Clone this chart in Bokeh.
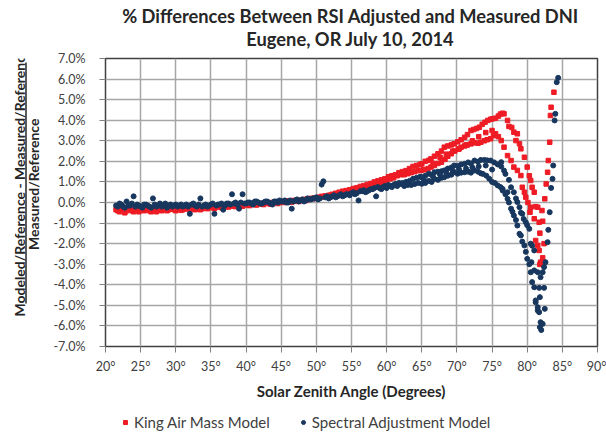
import math
from bokeh.plotting import figure
from bokeh.models import FixedTicker, Legend, LegendItem, Range1d
from bokeh.core.properties import value
from bokeh.layouts import column, row
from bokeh.embed import file_html
from bokeh.resources import INLINE

# ---------------- texts ----------------
title_line1 = "% Differences Between RSI Adjusted and Measured DNI"
title_line2 = "Eugene, OR July 10, 2014"
x_axis_title = "Solar Zenith Angle (Degrees)"
y_title_top = "Modeled/Reference - Measured/Reference"
y_title_bottom = "Measured/Reference"
series_names = ["King Air Mass Model", "Spectral Adjustment Model"]

x_ticks = [20, 25, 30, 35, 40, 45, 50, 55, 60, 65, 70, 75, 80, 85, 90]
x_tick_labels = ["20°", "25°", "30°", "35°", "40°", "45°", "50°", "55°", "60°",
                 "65°", "70°", "75°", "80°", "85°", "90°"]
y_ticks = [-7, -6, -5, -4, -3, -2, -1, 0, 1, 2, 3, 4, 5, 6, 7]
y_tick_labels = ["-7.0%", "-6.0%", "-5.0%", "-4.0%", "-3.0%", "-2.0%", "-1.0%", "0.0%",
                 "1.0%", "2.0%", "3.0%", "4.0%", "5.0%", "6.0%", "7.0%"]

# ---------------- data: (solar zenith deg, % difference) ----------------
# King Air Mass Model
king_band_a = [(21.5,-0.35),(22,-0.45),(22.5,-0.30),(23,-0.40),(23.5,-0.25),(24,-0.45),(24.5,-0.35),
               (25,-0.30),(25.5,-0.40),(26,-0.35),(26.5,-0.45),(27,-0.30),(27.5,-0.35),(28,-0.40),
               (28.5,-0.30),(29,-0.35),(29.5,-0.30),(30,-0.40),(30.5,-0.30),(31,-0.35),(31.5,-0.25),
               (32,-0.35),(32.5,-0.30),(33,-0.28),(33.5,-0.35),(34,-0.25),(34.5,-0.30),(35,-0.22),
               (35.5,-0.30),(36,-0.20),(36.5,-0.25),(37,-0.18),(37.5,-0.22),(38,-0.15),(38.5,-0.20),
               (39,-0.12),(39.5,-0.18),(40,-0.10),(40.5,-0.15),(41,-0.08),(41.5,-0.12),(42,-0.05),
               (42.5,-0.10),(43,-0.02),(43.5,-0.08),(44,0.00),(44.5,-0.05),(45,0.02),(45.5,0.00),
               (46,0.05),(46.5,0.02),(47,0.08),(47.5,0.05),(48,0.12),(48.5,0.10),(49,0.15),(49.5,0.18),
               (50,0.20),(50.5,0.25),(51,0.28),(51.5,0.30),(52,0.35),(52.5,0.38),(53,0.42),(53.5,0.40),
               (54,0.48),(54.5,0.52),(55,0.55),(55.5,0.60),(56,0.65),(56.5,0.70),(57,0.72),(57.5,0.80),
               (58,0.85),(58.5,0.90),(59,0.95),(59.5,1.00),(60,1.05),(60.5,1.15),(61,1.20),(61.5,1.30),
               (62,1.35),(62.5,1.35),(63,1.40),(63.5,1.45),(64,1.50),(64.5,1.55)]
king_band_b = [(21.75,-0.40),(22.25,-0.30),(22.75,-0.50),(23.25,-0.35),(23.75,-0.40),(24.25,-0.30),
               (24.75,-0.45),(25.25,-0.35),(25.75,-0.30),(26.25,-0.40),(26.75,-0.35),(27.25,-0.45),
               (27.75,-0.30),(28.25,-0.35),(28.75,-0.40),(29.25,-0.30),(29.75,-0.35),(30.25,-0.30),
               (30.75,-0.38),(31.25,-0.32),(31.75,-0.28),(32.25,-0.30),(32.75,-0.35),(33.25,-0.25),
               (33.75,-0.30),(34.25,-0.28),(34.75,-0.22),(35.25,-0.25),(35.75,-0.20),(36.25,-0.22),
               (36.75,-0.18),(37.25,-0.20),(37.75,-0.15),(38.25,-0.18),(38.75,-0.12),(39.25,-0.15),
               (39.75,-0.10),(40.25,-0.12),(40.75,-0.08),(41.25,-0.10),(41.75,-0.05),(42.25,-0.08),
               (42.75,-0.02),(43.25,-0.05),(43.75,0.00),(44.25,0.02),(44.75,0.00),(45.25,0.05),
               (45.75,0.08),(46.25,0.05),(46.75,0.10),(47.25,0.12),(47.75,0.10),(48.25,0.15),
               (48.75,0.18),(49.25,0.20),(49.75,0.22),(50.25,0.25),(50.75,0.30),(51.25,0.32),
               (51.75,0.35),(52.25,0.40),(52.75,0.45),(53.25,0.50),(53.75,0.55),(54.25,0.58),
               (54.75,0.62),(55.25,0.68),(55.75,0.72),(56.25,0.78),(56.75,0.82),(57.25,0.88),
               (57.75,0.92),(58.25,1.00),(58.75,1.05),(59.25,1.10),(59.75,1.15),(60.25,1.25),
               (60.75,1.30),(61.25,1.35),(61.75,1.45),(62.25,1.50),(62.75,1.55),(63.25,1.65),
               (63.75,1.75),(64.25,1.80),(64.75,1.85)]
king_upper = [(65.0,1.88),(65.5,2.00),(66.0,2.05),(66.3,2.12),(66.8,2.25),(67.3,2.37),(67.8,2.50),
              (68.2,2.69),(68.7,2.75),(69.2,2.80),(69.6,2.85),(70.1,2.95),(70.6,3.05),(71.1,3.17),
              (71.5,3.30),(72.0,3.50),(72.4,3.55),(72.8,3.60),(73.2,3.66),(73.6,3.80),(74.0,3.90),
              (74.4,3.99),(74.8,4.05),(75.1,4.07),(75.5,4.10),(75.9,4.20),(76.2,4.30),(76.5,4.34),
              (76.7,4.31),(77.2,3.99),(77.4,3.70),(78.1,3.42),(78.4,3.01),(78.9,2.85),(79.1,2.61),
              (79.6,2.20),(80.0,1.72),(80.3,1.30),(80.5,1.07),(80.7,0.74),(81.0,0.50),(81.2,-0.20),
              (81.5,-0.23),(82.1,-0.39),(82.2,-0.91),(82.4,-2.00)]
king_lower = [(64.9,1.56),(65.4,1.60),(65.9,1.65),(66.3,1.72),(66.8,1.80),(67.3,1.90),(67.8,1.96),
              (68.3,2.10),(68.7,2.25),(69.2,2.37),(69.7,2.50),(70.2,2.60),(70.6,2.69),(71.1,2.75),
              (71.5,2.80),(72.0,2.85),(72.5,2.90),(73.0,2.88),(73.4,2.93),(73.9,3.00),(74.3,3.05),
              (74.8,3.10),(75.2,3.25),(75.5,3.34),(75.9,3.20),(76.3,3.01),(76.7,2.69),(77.2,2.28),
              (77.7,2.04),(78.1,1.72),(78.6,1.56),(79.1,1.31),(79.3,0.74),(79.6,0.50),(79.8,0.26),
              (80.1,0.00),(80.5,-0.23),(80.4,-0.47),(81.0,-0.79),(81.7,-0.96),(81.8,-1.49),
              (81.2,-1.85),(81.5,-2.09),(81.7,-2.33),(82.2,-2.69),(81.9,-2.90),(81.8,-3.01)]
king_middle = [(65.3,1.60),(66.6,1.90),(67.6,2.20),(68.5,2.35),(69.4,2.50),(70.3,2.60),(71.3,2.80),
               (72.2,3.00),(73.1,3.20),(74.1,3.40),(75.0,3.50),(77.8,3.65),(78.6,3.34)]
king_rise = [(82.5,0.18),(82.7,0.90),(82.9,1.47),(83.0,2.04),(83.2,2.93),(83.3,4.23),(83.4,4.63),
             (83.8,5.36)]

# Spectral Adjustment Model
spec_band_a = [(21.5,-0.15),(22,-0.05),(22.5,-0.20),(23,0.05),(23.5,-0.15),(24,0.30),(24.5,-0.10),
               (25,-0.20),(25.5,-0.10),(26,-0.15),(26.5,-0.25),(27,-0.10),(27.5,-0.15),(28,-0.20),
               (28.5,-0.05),(29,-0.15),(29.5,-0.20),(30,-0.10),(30.5,-0.15),(31,-0.20),(31.5,-0.10),
               (32,-0.55),(32.5,-0.05),(33,-0.20),(33.5,0.20),(34,-0.15),(34.5,-0.20),(35,-0.10),
               (35.5,-0.55),(36,-0.10),(36.5,-0.05),(37,-0.15),(37.5,-0.05),(38,0.40),(38.5,0.00),
               (39,-0.30),(39.5,0.40),(40,-0.05),(40.5,0.00),(41,-0.10),(41.5,0.05),(42,-0.05),
               (42.5,0.00),(43,0.05),(43.5,-0.05),(44,0.05),(44.5,0.00),(45,0.05),(45.5,0.10),
               (46,0.00),(46.5,-0.30),(47,0.10),(47.5,0.05),(48,0.15),(48.5,0.10),(49,0.15),
               (49.5,0.20),(50,0.25),(50.5,0.20),(51,1.03),(51.5,0.30),(52,0.25),(52.5,0.35),
               (53,0.30),(53.5,0.40),(54,0.35),(54.5,0.40),(55,0.45),(55.5,0.40),(56,0.10),
               (56.5,0.55),(57,0.50),(57.5,0.60),(58,0.65),(58.5,0.30),(59,0.70),(59.5,0.75),
               (60,0.70),(60.5,0.80),(61,0.85),(61.5,0.80),(62,0.90),(62.5,0.80),(63,0.85),
               (63.5,0.85),(64,0.90),(64.5,0.95)]
spec_band_b = [(21.75,-0.20),(22.25,-0.10),(22.75,-0.25),(23.25,-0.15),(23.75,-0.05),(24.25,-0.20),
               (24.75,-0.15),(25.25,-0.25),(25.75,-0.10),(26.25,-0.20),(26.75,0.20),(27.25,-0.20),
               (27.75,-0.05),(28.25,-0.15),(28.75,-0.25),(29.25,-0.10),(29.75,-0.15),(30.25,-0.20),
               (30.75,-0.10),(31.25,-0.15),(31.75,-0.20),(32.25,-0.10),(32.75,-0.15),(33.25,-0.10),
               (33.75,-0.20),(34.25,-0.10),(34.75,-0.15),(35.25,-0.05),(35.75,-0.15),(36.25,-0.10),
               (36.75,-0.35),(37.25,-0.05),(37.75,-0.10),(38.25,-0.05),(38.75,-0.10),(39.25,0.00),
               (39.75,-0.05),(40.25,0.00),(40.75,-0.05),(41.25,0.05),(41.75,0.00),(42.25,-0.05),
               (42.75,0.05),(43.25,0.00),(43.75,-0.10),(44.25,0.05),(44.75,0.10),(45.25,0.05),
               (45.75,0.00),(46.25,0.10),(46.75,0.05),(47.25,0.15),(47.75,0.10),(48.25,0.05),
               (48.75,0.20),(49.25,0.15),(49.75,0.20),(50.25,0.15),(50.75,0.87),(51.25,0.25),
               (51.75,0.20),(52.25,0.30),(52.75,0.25),(53.25,0.35),(53.75,0.30),(54.25,0.40),
               (54.75,0.35),(55.25,0.50),(55.75,0.45),(56.25,0.55),(56.75,0.60),(57.25,0.55),
               (57.75,0.65),(58.25,0.70),(58.75,0.75),(59.25,0.65),(59.75,0.80),(60.25,0.85),
               (60.75,0.75),(61.25,0.90),(61.75,0.95),(62.25,0.95),(62.75,1.00),(63.25,1.05),
               (63.75,1.15),(64.25,1.20),(64.75,1.25)]
spec_upper = [(65.0,1.23),(65.5,1.30),(66.0,1.40),(66.4,1.35),(66.8,1.47),(67.3,1.50),(67.8,1.52),
              (68.2,1.56),(68.7,1.65),(69.2,1.70),(69.6,1.80),(70.1,1.78),(70.6,1.85),(71.1,1.88),
              (71.6,1.95),(72.0,1.90),(72.5,2.04),(73.0,1.98),(73.4,2.07),(73.9,2.07),(74.3,2.05),
              (74.8,2.04),(75.3,1.95),(75.8,1.85),(76.3,1.75),(76.7,1.55),(76.9,1.39),(77.4,1.10),
              (77.7,0.74),(78.1,0.50),(78.4,0.20),(78.6,0.02),(78.9,-0.23),(79.1,-0.50),(79.3,-0.55),
              (79.5,-0.80),(79.8,-0.96),(80.0,-1.10),(80.3,-1.28),(80.5,-2.00),(80.7,-2.10),
              (81.0,-2.33),(80.6,-2.90),(81.0,-3.30),(81.5,-3.39),(81.9,-3.63),(81.7,-4.15),
              (82.4,-4.15),(81.8,-4.60),(81.2,-4.85),(81.5,-5.09),(82.5,-5.17)]
spec_lower = [(65.0,0.91),(65.5,0.95),(66.0,1.05),(66.4,1.00),(66.8,1.15),(67.3,1.10),(67.8,1.20),
              (68.2,1.23),(68.7,1.30),(69.2,1.35),(69.6,1.47),(70.1,1.40),(70.6,1.45),(71.1,1.47),
              (71.6,1.50),(72.0,1.45),(72.5,1.56),(73.0,1.50),(73.4,1.42),(73.7,1.39),(74.2,1.30),
              (74.6,1.15),(75.0,1.00),(75.4,0.95),(75.8,0.83),(76.2,0.75),(76.5,0.58),(76.9,0.40),
              (77.2,0.18),(77.4,0.00),(77.7,-0.30),(77.9,-0.45),(78.1,-0.63),(78.4,-0.85),
              (78.6,-1.12),(78.9,-1.52),(79.1,-1.60),(79.3,-1.90),(79.6,-2.09),(79.8,-2.40),
              (80.0,-2.74),(80.3,-3.00),(80.5,-3.39),(80.7,-3.87),(81.0,-4.12),(81.2,-4.76),
              (81.5,-5.25),(81.7,-5.33),(81.9,-5.82),(81.8,-6.06),(82.0,-6.20),(82.2,-5.90)]
spec_middle = [(65.3,1.10),(66.6,1.25),(67.6,1.35),(68.5,1.45),(69.4,1.55),(70.3,1.60),(71.3,1.65),
               (72.2,1.70),(73.1,1.75),(74.1,1.80),(75.0,1.60),(76.3,1.96),(76.5,0.66),(77.2,0.50)]
spec_rise = [(82.2,-3.39),(82.4,-3.14),(82.6,-2.90),(82.9,-1.93),(83.0,-1.33),(83.2,-0.47),
             (83.4,0.71),(83.6,1.15),(83.7,1.80),(83.9,3.99),(84.0,4.31),(84.2,5.85),(84.4,6.06)]

king_points = king_band_a + king_band_b + king_upper + king_lower + king_middle + king_rise
spec_points = spec_band_a + spec_band_b + spec_upper + spec_lower + spec_middle + spec_rise
king_zenith = [p[0] for p in king_points]
king_diff = [p[1] for p in king_points]
spec_zenith = [p[0] for p in spec_points]
spec_diff = [p[1] for p in spec_points]

# ---------------- styling / layout ----------------
FONT = "Lato"
TXT = "#404040"
DARK = "#262626"
RED = "#EE1C25"
NAVY = "#17375E"
W = 606
LEFT_W = 50          # y-title strip width
TITLE_H = 50         # title strip height (full width)
LEG_H = 30           # legend strip height
ROW_BOTTOM = 435 - LEG_H
MAIN_H = ROW_BOTTOM - TITLE_H


def strip(width, height):
    f = figure(width=width, height=height, output_backend="svg", toolbar_location=None,
               x_range=Range1d(0, width), y_range=Range1d(0, height),
               x_axis_location=None, y_axis_location=None,
               min_border_left=0, min_border_right=0, min_border_top=0, min_border_bottom=0)
    f.grid.visible = False
    f.outline_line_color = None
    f.background_fill_color = "white"
    f.border_fill_color = "white"
    return f


# ---- title strip ----
tt = strip(W, TITLE_H)
tt.text(x=[350, 350], y=[TITLE_H - 15.5, TITLE_H - 38.5], text=[title_line1, title_line2],
        text_align="center", text_baseline="middle", text_font=value(FONT),
        text_font_style="bold", text_font_size="18.3px", text_color=DARK)

# ---- main plot ----
p = figure(width=W - LEFT_W, height=MAIN_H, output_backend="svg", toolbar_location=None,
           x_range=Range1d(20, 90), y_range=Range1d(-7, 7),
           min_border_left=103 - LEFT_W, min_border_right=9, min_border_top=58 - TITLE_H,
           min_border_bottom=ROW_BOTTOM - 346)
p.background_fill_color = "white"
p.border_fill_color = "white"
p.outline_line_color = "#404040"
p.outline_line_width = 1.5

for ax in (p.xaxis[0], p.yaxis[0]):
    ax.axis_line_color = None
    ax.major_tick_line_color = "#808080"
    ax.major_tick_line_width = 1
    ax.major_tick_in = 0
    ax.major_tick_out = 6
    ax.minor_tick_line_color = None
    ax.major_label_text_font = FONT
    ax.major_label_text_font_size = "12.5px"
    ax.major_label_text_color = TXT

p.xaxis.ticker = FixedTicker(ticks=x_ticks)
p.xaxis.major_label_overrides = dict(zip(x_ticks, x_tick_labels))
p.xaxis.major_label_standoff = 6
p.xaxis.axis_label = x_axis_title
p.xaxis.axis_label_text_font = FONT
p.xaxis.axis_label_text_font_style = "bold"
p.xaxis.axis_label_text_font_size = "15px"
p.xaxis.axis_label_text_color = DARK
p.xaxis.axis_label_standoff = 5

p.yaxis.ticker = FixedTicker(ticks=y_ticks)
p.yaxis.major_label_overrides = dict(zip(y_ticks, y_tick_labels))
p.yaxis.major_label_standoff = 14

p.xgrid.ticker = FixedTicker(ticks=x_ticks)
p.ygrid.ticker = FixedTicker(ticks=y_ticks)
for g in (p.xgrid[0], p.ygrid[0]):
    g.grid_line_color = "#A6A6A6"
    g.grid_line_width = 1.5

p.scatter(king_zenith, king_diff, marker="square", size=4.5, color=RED)
p.scatter(spec_zenith, spec_diff, marker="circle", size=5, color=NAVY)

# ---- y-title strip (fraction) ----
yl = strip(LEFT_W, MAIN_H)
yl.text(x=[19], y=[ROW_BOTTOM - 203], text=[y_title_top], angle=math.pi / 2,
        text_align="center", text_baseline="middle", text_font=value(FONT),
        text_font_style="bold", text_font_size="14px", text_color=DARK)
yl.segment(x0=[25.5], y0=[ROW_BOTTOM - 55], x1=[25.5], y1=[ROW_BOTTOM - 352],
           line_color=DARK, line_width=1.5)
yl.text(x=[33], y=[ROW_BOTTOM - 205], text=[y_title_bottom], angle=math.pi / 2,
        text_align="center", text_baseline="middle", text_font=value(FONT),
        text_font_style="bold", text_font_size="14px", text_color=DARK)

# ---- legend strip ----
lg = strip(W, LEG_H)
lk = lg.scatter([-50], [-50], marker="square", size=4.5, color=RED)
ls = lg.scatter([-50], [-50], marker="circle", size=5, color=NAVY)
legend = Legend(items=[LegendItem(label=series_names[0], renderers=[lk]),
                       LegendItem(label=series_names[1], renderers=[ls])],
                location=(120, 4), orientation="horizontal",
                padding=0, margin=0, spacing=28, label_standoff=4,
                glyph_width=10, glyph_height=10, label_height=14,
                label_text_font=FONT, label_text_font_size="15px", label_text_color=TXT,
                border_line_color=None, background_fill_alpha=0)
lg.add_layout(legend)

layout = column(tt, row(yl, p), lg)
open("out.html", "w").write(file_html(layout, INLINE))
